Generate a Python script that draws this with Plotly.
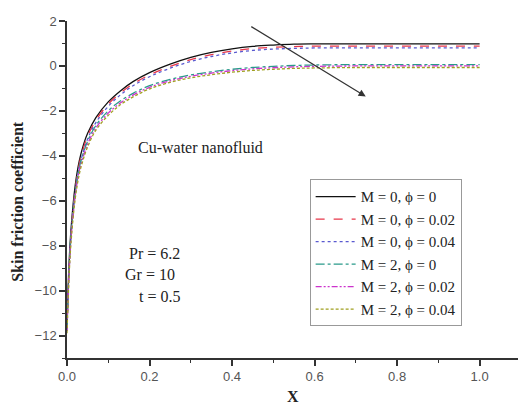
import plotly.graph_objects as go

x = [0, 0.005, 0.01, 0.02, 0.03, 0.04, 0.05, 0.07, 0.1, 0.13, 0.16, 0.2, 0.25, 0.3,
     0.35, 0.4, 0.45, 0.5, 0.55, 0.6, 0.7, 0.8, 0.9, 1.0]

m0_phi0 = [-11.6, -8.8, -7.2, -5.3, -4.2, -3.5, -3.0, -2.3, -1.6, -1.1, -0.7, -0.3, 0.08, 0.38,
           0.6, 0.76, 0.87, 0.93, 0.97, 0.98, 0.98, 0.98, 0.98, 0.98]
m0_phi002 = [-11.7, -9.0, -7.4, -5.5, -4.35, -3.65, -3.12, -2.42, -1.7, -1.2, -0.8, -0.4, -0.02, 0.28,
             0.5, 0.66, 0.77, 0.83, 0.86, 0.88, 0.88, 0.88, 0.88, 0.88]
m0_phi004 = [-11.8, -9.2, -7.6, -5.7, -4.5, -3.8, -3.25, -2.52, -1.8, -1.28, -0.88, -0.48, -0.1, 0.2,
             0.42, 0.58, 0.69, 0.75, 0.78, 0.8, 0.8, 0.8, 0.8, 0.8]
m2_phi0 = [-11.7, -9.0, -7.45, -5.6, -4.5, -3.85, -3.35, -2.65, -2.0, -1.55, -1.22, -0.88, -0.6, -0.4,
           -0.26, -0.15, -0.07, -0.02, 0.02, 0.04, 0.06, 0.06, 0.06, 0.06]
m2_phi002 = [-11.8, -9.2, -7.6, -5.75, -4.65, -4.0, -3.48, -2.76, -2.1, -1.64, -1.3, -0.95, -0.66, -0.46,
             -0.32, -0.21, -0.13, -0.08, -0.04, -0.02, 0.0, 0.0, 0.0, 0.0]
m2_phi004 = [-11.9, -9.4, -7.8, -5.9, -4.8, -4.12, -3.6, -2.86, -2.2, -1.72, -1.38, -1.02, -0.73, -0.53,
             -0.39, -0.28, -0.2, -0.15, -0.11, -0.09, -0.07, -0.07, -0.07, -0.07]

labels = ["M = 0, \u03d5 = 0", "M = 0, \u03d5 = 0.02", "M = 0, \u03d5 = 0.04",
          "M = 2, \u03d5 = 0", "M = 2, \u03d5 = 0.02", "M = 2, \u03d5 = 0.04"]
series = [m0_phi0, m0_phi002, m0_phi004, m2_phi0, m2_phi002, m2_phi004]
colors = ["#111111", "#e8374a", "#5a5ad0", "#2a9a8a", "#cc33cc", "#a0a020"]
dashes = ["solid", "dash", "dot", "dashdot", "6px,2px,2px,2px,2px,2px", "3px,2px"]

fig = go.Figure()
for lab, ys, c, d in zip(labels, series, colors, dashes):
    fig.add_trace(go.Scatter(x=x, y=ys, mode="lines", name=lab,
                             line=dict(color=c, dash=d, width=1.3, shape="spline")))

serif = "Liberation Serif, Times New Roman, serif"
sans = "Liberation Sans, Arial, sans-serif"

fig.update_layout(
    width=518, height=406,
    margin=dict(l=67, r=0, t=21, b=48),
    paper_bgcolor="white", plot_bgcolor="white",
    showlegend=True,
    legend=dict(x=0.538, y=0.53, xanchor="left", yanchor="top",
                bgcolor="white", bordercolor="#999999", borderwidth=1,
                font=dict(family=serif, size=15, color="#222"),
                tracegroupgap=0, itemwidth=40),
    xaxis=dict(range=[0, 1.093], showline=True, linecolor="#333", linewidth=1.5,
               showgrid=False, zeroline=False, ticks="outside", ticklen=6, tickwidth=1.5,
               tickcolor="#333", dtick=0.2, tick0=0, tickformat=".1f",
               tickfont=dict(family=sans, size=13, color="#555"),
               minor=dict(dtick=0.1, ticks="outside", ticklen=3, tickcolor="#333", tickwidth=1.2)),
    yaxis=dict(range=[-13, 2], showline=True, linecolor="#333", linewidth=1.5,
               showgrid=False, zeroline=False, ticks="outside", ticklen=6, tickwidth=1.5,
               tickcolor="#333", dtick=2, tick0=0,
               tickfont=dict(family=sans, size=13, color="#555"),
               minor=dict(dtick=1, ticks="outside", ticklen=3, tickcolor="#333", tickwidth=1.2)),
    annotations=[
        dict(text="<b>X</b>", xref="paper", yref="paper", x=0.501, y=-0.113,
             showarrow=False, font=dict(family=serif, size=16, color="#222"),
             xanchor="center", yanchor="middle"),
        dict(text="<b>Skin friction coefficient</b>", xref="paper", yref="paper",
             x=-0.109, y=0.466, textangle=-90, showarrow=False,
             font=dict(family=serif, size=16, color="#222"), xanchor="center", yanchor="middle"),
        dict(text="Cu-water nanofluid", xref="x", yref="y", x=0.324, y=-3.63,
             showarrow=False, font=dict(family=serif, size=16, color="#222"),
             xanchor="center", yanchor="middle"),
        dict(text="Pr = 6.2", xref="x", yref="y", x=0.278, y=-8.35, showarrow=False,
             font=dict(family=serif, size=16, color="#222"), xanchor="right", yanchor="middle"),
        dict(text="Gr = 10", xref="x", yref="y", x=0.266, y=-9.3, showarrow=False,
             font=dict(family=serif, size=16, color="#222"), xanchor="right", yanchor="middle"),
        dict(text="t = 0.5", xref="x", yref="y", x=0.278, y=-10.25, showarrow=False,
             font=dict(family=serif, size=16, color="#222"), xanchor="right", yanchor="middle"),
        dict(x=0.724, y=-1.36, ax=0.443, ay=1.79, xref="x", yref="y", axref="x", ayref="y",
             text="", showarrow=True, arrowhead=2, arrowsize=1.2, arrowwidth=1.2, arrowcolor="#333"),
    ],
)

fig.write_html("out.html")
